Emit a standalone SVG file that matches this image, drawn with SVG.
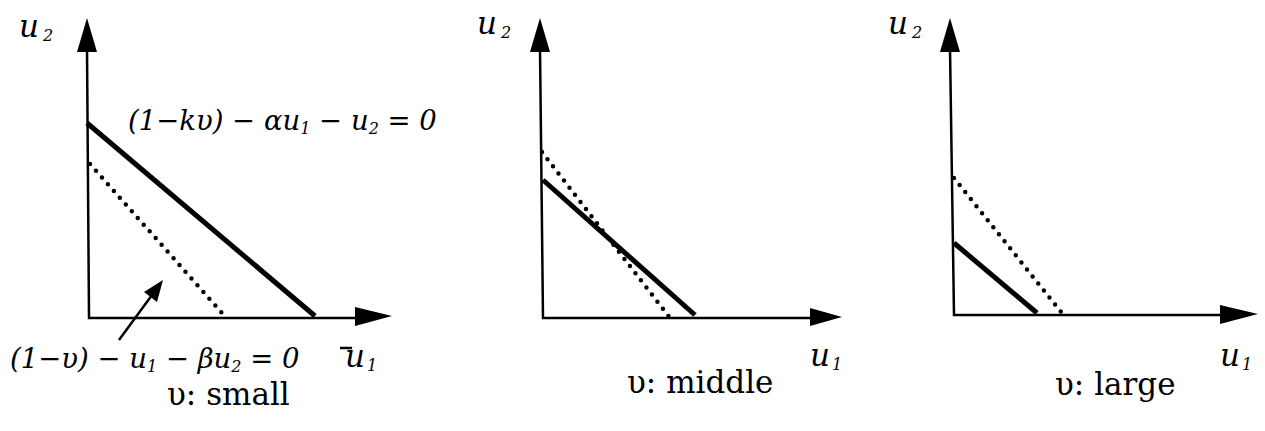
<svg xmlns="http://www.w3.org/2000/svg" width="1265" height="431" viewBox="0 0 1265 431">
<style>
.axis{stroke:#000;stroke-width:2.5;fill:none}
.solid{stroke:#000;stroke-width:5;fill:none;stroke-linecap:butt}
.dot{stroke:#000;stroke-width:4.5;fill:none;stroke-linecap:round;stroke-dasharray:0 9}
.head{fill:#000}
.m{font-family:'DejaVu Serif','Liberation Serif',serif;font-style:italic;font-size:27.5px;fill:#000}
.ax{font-size:31px}
.s{font-size:16px}
.cap{font-family:'DejaVu Serif','Liberation Serif',serif;font-size:31px;fill:#000}
</style>
<g id="panel-small">
  <g id="axes-1">
    <path class="axis" d="M87 48 L89 318 L358 318"/>
    <polygon class="head" points="87,18 77,52 97,52"/>
    <polygon class="head" points="392,316 355,307 355,326"/>
  </g>
  <g id="lines-1">
    <line class="solid" x1="87" y1="123" x2="315" y2="316"/>
    <line class="dot" x1="90" y1="164" x2="222" y2="313"/>
  </g>
  <text class="m ax" x="19" y="37">u<tspan class="s" dx="4" dy="4">2</tspan></text>
  <text class="m" x="128" y="130">(1−kυ) − αu<tspan class="s" dy="4">1</tspan><tspan dy="-4"> − u</tspan><tspan class="s" dy="4">2</tspan><tspan dy="-4"> = 0</tspan></text>
  <g id="pointer-1">
    <line class="axis" stroke-width="3.5" x1="119" y1="340" x2="152" y2="295"/>
    <polygon class="head" points="163,280 144,292 157,302"/>
  </g>
  <text class="m" x="10" y="368">(1−υ) − u<tspan class="s" dy="4">1</tspan><tspan dy="-4"> − βu</tspan><tspan class="s" dy="4">2</tspan><tspan dy="-4"> = 0</tspan></text>
  <line class="axis" stroke-width="2" x1="340" y1="348" x2="352" y2="348"/>
  <text class="m ax" x="345" y="367">u<tspan class="s" dx="2" dy="4">1</tspan></text>
  <text class="cap" x="167" y="405">υ: small</text>
</g>
<g id="panel-middle">
  <g id="axes-2">
    <path class="axis" d="M540 48 L543 318 L810 318"/>
    <polygon class="head" points="540,18 530,52 550,52"/>
    <polygon class="head" points="842,317 810,308 810,326"/>
  </g>
  <g id="lines-2">
    <line class="solid" x1="543" y1="180" x2="695" y2="315"/>
    <line class="dot" x1="542" y1="152" x2="670" y2="318"/>
  </g>
  <text class="m ax" x="477" y="34">u<tspan class="s" dx="4" dy="4">2</tspan></text>
  <text class="m ax" x="810" y="366">u<tspan class="s" dx="2" dy="4">1</tspan></text>
  <text class="cap" x="627" y="393">υ: middle</text>
</g>
<g id="panel-large">
  <g id="axes-3">
    <path class="axis" d="M950 48 L954 315 L1222 315"/>
    <polygon class="head" points="950,18 940,52 960,52"/>
    <polygon class="head" points="1258,314 1220,305 1220,324"/>
  </g>
  <g id="lines-3">
    <line class="solid" x1="954" y1="243" x2="1037" y2="313"/>
    <line class="dot" x1="954" y1="178" x2="1065" y2="317"/>
  </g>
  <text class="m ax" x="888" y="34">u<tspan class="s" dx="4" dy="4">2</tspan></text>
  <text class="m ax" x="1220" y="366">u<tspan class="s" dx="2" dy="4">1</tspan></text>
  <text class="cap" x="1055" y="395">υ: large</text>
</g>
</svg>
